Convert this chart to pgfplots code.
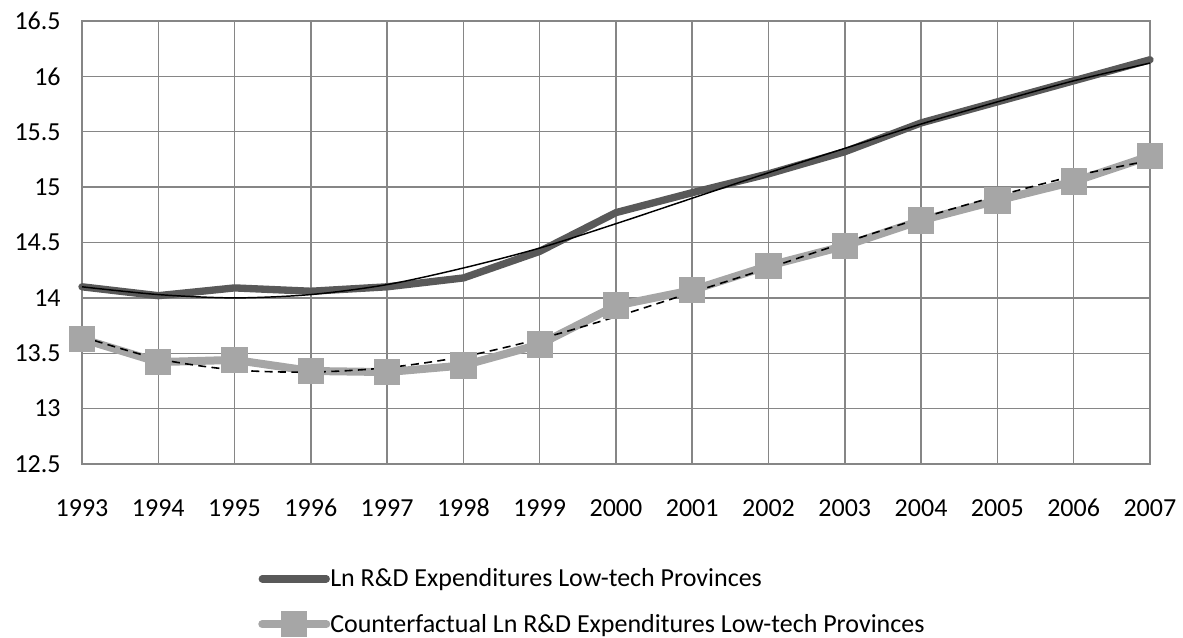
\documentclass[border=0pt]{standalone}
\usepackage{pgfplots}
\pgfplotsset{compat=1.18}
\usepackage{fontspec}
\setmainfont{Carlito}
\definecolor{darkser}{RGB}{89,89,89}
\definecolor{lightser}{RGB}{166,166,166}
\definecolor{gridc}{RGB}{134,134,134}
\begin{document}
\begin{tikzpicture}
\begin{axis}[
  at={(0,0)}, anchor=south west,
  scale only axis,
  width=801pt, height=332.25pt,
  xmin=1993, xmax=2007, ymin=12.5, ymax=16.5,
  xtick={1993,...,2007},
  ytick={12.5,13,13.5,14,14.5,15,15.5,16,16.5},
  /pgf/number format/assume math mode=true,
  /pgf/number format/1000 sep={},
  font=\fontsize{19.5}{23}\selectfont,
  tick label style={font=\fontsize{19.5}{23}\selectfont},
  xticklabel style={anchor=base, yshift=-39pt},
  yticklabel style={xshift=-12.5pt},
  major tick length=0pt,
  grid=major,
  grid style={gridc, line width=1.1pt},
  axis line style={gridc, line width=1.1pt},
  clip=false,
  legend cell align=left,
  legend style={draw=none, fill=none, at={(0.1648,-0.236)}, anchor=north west,
    font=\fontsize{19.5}{23}\selectfont, row sep=17pt, inner sep=0pt,
    nodes={inner xsep=0pt, inner ysep=0pt}},
  legend image code/.code={\draw[mark repeat=2,mark phase=2,#1] plot coordinates {(0pt,0pt) (24pt,0pt) (48pt,0pt)};},
]
\addplot[darkser, line width=5.5pt, line cap=round, line join=round] coordinates {
(1993,14.10) (1994,14.02) (1995,14.09) (1996,14.06) (1997,14.10) (1998,14.18) (1999,14.42) (2000,14.77) (2001,14.95) (2002,15.12) (2003,15.32) (2004,15.58) (2005,15.77) (2006,15.96) (2007,16.15)};
\addlegendentry{Ln R\&D Expenditures Low-tech Provinces}
\addplot[lightser, line width=6pt, line cap=round, line join=round, mark=square*, mark size=9.5pt, mark options={fill=lightser, draw=lightser, line width=0pt}] coordinates {
(1993,13.63) (1994,13.42) (1995,13.44) (1996,13.34) (1997,13.33) (1998,13.39) (1999,13.58) (2000,13.93) (2001,14.07) (2002,14.29) (2003,14.47) (2004,14.70) (2005,14.88) (2006,15.05) (2007,15.28)};
\addlegendentry{Counterfactual Ln R\&D Expenditures Low-tech Provinces}
\addplot[black, line width=1.1pt, smooth, forget plot] coordinates {
(1993,14.10) (1994,14.03) (1995,14.00) (1996,14.03) (1997,14.12) (1998,14.27) (1999,14.45) (2000,14.67) (2001,14.90) (2002,15.13) (2003,15.35) (2004,15.57) (2005,15.77) (2006,15.96) (2007,16.12)};
\addplot[black, line width=1.2pt, dash pattern=on 6pt off 4pt, smooth, forget plot] coordinates {
(1993,13.65) (1994,13.45) (1995,13.35) (1996,13.33) (1997,13.37) (1998,13.47) (1999,13.63) (2000,13.83) (2001,14.05) (2002,14.27) (2003,14.50) (2004,14.72) (2005,14.92) (2006,15.10) (2007,15.24)};
\end{axis}
\pgfresetboundingbox
\path (-61.5pt,-129.75pt) rectangle (825.75pt,348pt);
\end{tikzpicture}
\end{document}
